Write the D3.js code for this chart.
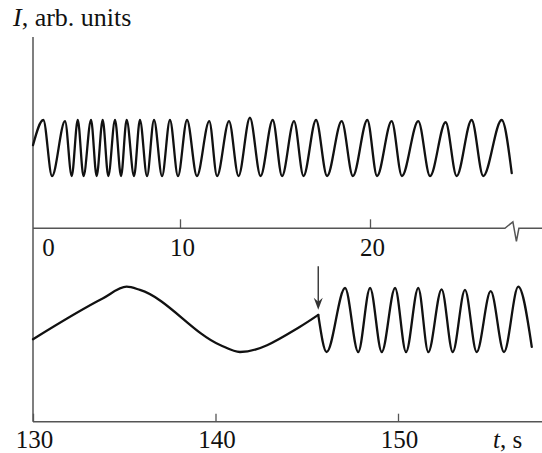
<!DOCTYPE html>
<html><head><meta charset="utf-8">
<script src="https://cdn.jsdelivr.net/npm/d3@7"></script>
<style>
html,body{margin:0;padding:0;background:#fff;}
svg{display:block;}
text{font-family:"Liberation Serif","Times New Roman",serif;fill:#111;}
</style></head>
<body>
<svg id="c" width="542" height="453"></svg>
<script>
// ---- data ----
const topTicks = [0, 10, 20];
const bottomTicks = [130, 140, 150];
const topT = [-0.97,-0.2,0.45,1.42,1.92,2.37,2.80,3.36,3.78,4.23,4.65,5.15,5.60,6.02,6.57,7.01,7.54,8.06,8.66,9.25,9.85,10.37,10.89,11.54,11.95,12.58,13.08,13.68,14.24,14.88,15.37,16.0,16.5,17.16,17.74,18.51,19.1,19.86,20.37,21.14,21.68,22.54,23.16,23.98,24.56,25.35,25.96,26.93,27.46];
const topI = [0.55, 1.0,0, 0.98,0, 1,0, 1,0, 1,0, 1,0, 1,0, 1,0, 1,0, 1,0, 1,0, 0.98,0, 0.98,0, 1.04,0, 1,0, 0.98,0, 1,0, 0.98,0, 1,0, 0.98,0, 0.98,0, 0.96,0, 1,0, 1, 0.05];
const slowT = [130, 133.84, 135.13, 135.86, 140.25, 141.34, 144.63, 145.63];
const slowI = [0.2, 0.84, 1.02, 0.97, 0.11, 0, 0.395, 0.58];
const oscT = [145.63,146.09,147.10,147.82,148.47,149.11,149.84,150.44,151.11,151.66,152.39,153.0,153.67,154.31,155.08,155.81,156.59,157.33];
const oscI = [0.58,0,1,0,1,0,1,0,1,0,0.98,0,0.97,0,0.95,0,1.02,0.08];
const arrowT = 145.63;
const arrowFrom = 1.34, arrowTo = 0.66;
const topBreakT = 27.1;

// ---- layout ----
const W = 542, H = 453;
const axisX = 33;
const topAxisY = 228.3, botAxisY = 421.7;
const svg = d3.select("#c");

const xTop = d3.scaleLinear().domain(topTicks).range([46, 180, 370]);
const yTop = d3.scaleLinear().domain([0, 1]).range([176, 120]);
const xBot = d3.scaleLinear().domain([130, 150]).range([axisX, 398]);
const yBot = d3.scaleLinear().domain([0, 1]).range([352, 288]);

const axisColor = "#555";

// vertical axis
svg.append("line").attr("x1", axisX).attr("x2", axisX).attr("y1", 37).attr("y2", botAxisY)
  .attr("stroke", axisColor).attr("stroke-width", 1.5);

// top horizontal axis line with break symbol
const bx = xTop(topBreakT);
svg.append("path")
  .attr("d", `M${axisX},${topAxisY}H${bx}L${bx+8},${topAxisY-6.5}L${bx+11.5},${topAxisY+13}L${bx+14},${topAxisY}H${W}`)
  .attr("fill", "none").attr("stroke", axisColor).attr("stroke-width", 1.5);

// top axis ticks + labels
const gTop = svg.append("g").attr("transform", `translate(0,${topAxisY})`)
  .call(d3.axisBottom(xTop).tickValues(topTicks).tickSizeInner(-9).tickSizeOuter(0).tickFormat(d3.format("d")));
gTop.select(".domain").remove();
gTop.selectAll(".tick line").attr("stroke", axisColor).attr("stroke-width", 1.3)
  .filter(d => d === 0).remove();
gTop.selectAll(".tick text").attr("y", 28).attr("dy", 0).attr("dx", 2)
  .style("font-size", "25px").attr("fill", "#111");

// bottom axis
svg.append("line").attr("x1", axisX).attr("x2", W).attr("y1", botAxisY).attr("y2", botAxisY)
  .attr("stroke", axisColor).attr("stroke-width", 1.5);
const gBot = svg.append("g").attr("transform", `translate(0,${botAxisY})`)
  .call(d3.axisBottom(xBot).tickValues(bottomTicks).tickSizeInner(-8).tickSizeOuter(0).tickFormat(d3.format("d")));
gBot.select(".domain").remove();
gBot.selectAll(".tick line").attr("stroke", axisColor).attr("stroke-width", 1.3);
gBot.selectAll(".tick text").attr("y", 26.5).attr("dy", 0).attr("dx", 1)
  .style("font-size", "25px").attr("fill", "#111");

// axis titles
const yt = svg.append("text").attr("x", 13).attr("y", 26).style("font-size", "26px");
yt.append("tspan").style("font-style", "italic").text("I");
yt.append("tspan").text(", arb. units");
const xt = svg.append("text").attr("x", 493).attr("y", 448).style("font-size", "25px");
xt.append("tspan").style("font-style", "italic").text("t");
xt.append("tspan").text(", s");

// traces
const traceStyle = sel => sel.attr("fill", "none").attr("stroke", "#111").attr("stroke-width", 2.3)
  .attr("stroke-linejoin", "round").attr("stroke-linecap", "round");
const lineTop = d3.line().x(i => xTop(topT[i])).y(i => yTop(topI[i])).curve(d3.curveMonotoneX);
svg.append("path").attr("d", lineTop(d3.range(topT.length))).call(traceStyle);
const lineSlow = d3.line().x(i => xBot(slowT[i])).y(i => yBot(slowI[i])).curve(d3.curveMonotoneX);
svg.append("path").attr("d", lineSlow(d3.range(slowT.length))).call(traceStyle);
const lineOsc = d3.line().x(i => xBot(oscT[i])).y(i => yBot(oscI[i])).curve(d3.curveMonotoneX);
svg.append("path").attr("d", lineOsc(d3.range(oscT.length))).call(traceStyle);

// arrow
const ax = xBot(arrowT), ay0 = yBot(arrowFrom), ay1 = yBot(arrowTo);
svg.append("line").attr("x1", ax).attr("x2", ax).attr("y1", ay0).attr("y2", ay1 - 6)
  .attr("stroke", "#333").attr("stroke-width", 1.4);
svg.append("path")
  .attr("d", `M${ax},${ay1}L${ax-4.5},${ay1-12}L${ax},${ay1-8}L${ax+4.5},${ay1-12}Z`)
  .attr("fill", "#333");
</script>
</body></html>
